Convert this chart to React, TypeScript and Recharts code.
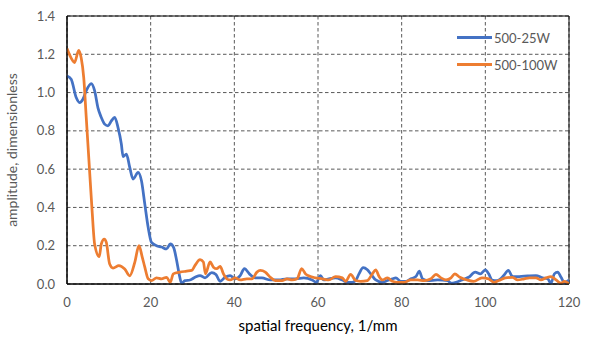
import {
  CartesianGrid,
  Line,
  LineChart,
  ReferenceArea,
  XAxis,
  YAxis,
} from "recharts";

const freqTicks = [0, 20, 40, 60, 80, 100, 120];
const ampTicks = [0, 0.2, 0.4, 0.6, 0.8, 1.0, 1.2, 1.4];

// 500-25W
const lowPowerFreq = [
  0, 1, 2.2, 3, 3.8, 4.6, 5.8, 6.6, 7.4, 8.2, 9, 9.8, 10.6, 11.4, 12.2, 13, 13.4, 14.2, 15, 15.8,
  17, 17.8, 18.6, 19.4, 20.2, 21.4, 22.6, 23.8, 24.7, 25.5, 26.2, 26.8, 27.4, 28.2, 29.4, 30.6,
  31.8, 33, 34.6, 35.6, 36.6, 37.8, 39, 40.2, 41.4, 42.4, 43.6, 45, 46.6, 48.6, 50.6, 52.6, 54.6,
  56.6, 58.6, 59.6, 60.6, 61.4, 62.6, 64.2, 65.8, 67, 68.2, 69, 69.8, 70.8, 71.8, 72.6, 73.8, 75.4,
  76.6, 77.8, 78.6, 79.8, 81, 82.2, 83.4, 84.2, 85, 86.2, 88.6, 91, 91.8, 93, 94.4, 96, 97.6, 98.8,
  100, 100.8, 101.6, 102.8, 104.4, 105.5, 106.5, 108.1, 110.1, 112.1, 113.7, 114.9, 115.7, 116.5,
  117.3, 118.1, 118.9, 120,
];
const lowPowerAmp = [
  1.087, 1.07, 0.974, 0.948, 0.965, 1.01, 1.047, 1.01, 0.92, 0.87, 0.835, 0.826, 0.852, 0.87, 0.817,
  0.73, 0.666, 0.678, 0.609, 0.548, 0.583, 0.539, 0.417, 0.296, 0.217, 0.2, 0.193, 0.183, 0.209,
  0.19, 0.124, 0.053, 0.004, 0.018, 0.021, 0.035, 0.044, 0.032, 0.06, 0.05, 0.014, 0.035, 0.044,
  0.027, 0.044, 0.08, 0.053, 0.032, 0.032, 0.021, 0.021, 0.027, 0.027, 0.032, 0.021, 0.009, 0.044,
  0.021, 0.027, 0.032, 0.021, 0.009, 0.009, 0.018, 0.053, 0.085, 0.074, 0.053, 0.021, 0.009, 0.018,
  0.027, 0.032, 0.014, 0.014, 0.027, 0.039, 0.067, 0.027, 0.018, 0.021, 0.018, 0.004, 0.009, 0.021,
  0.035, 0.062, 0.053, 0.074, 0.053, 0.021, 0.018, 0.044, 0.071, 0.039, 0.039, 0.042, 0.044, 0.032,
  0.027, 0.004, 0.053, 0.062, 0.035, 0.009, 0.021,
];

// 500-100W
const highPowerFreq = [
  0, 1, 1.8, 2.8, 3.4, 4, 4.6, 5.3, 6, 6.6, 7.7, 8.2, 8.9, 9.4, 10.2, 11, 12.4, 13.8, 15, 16.2,
  17.2, 18, 18.6, 19.4, 20.2, 21.4, 22.6, 23.8, 24.7, 25.4, 27, 28.6, 29.8, 30.6, 31.8, 32.6, 33.1,
  34.2, 35, 35.8, 36.6, 37.4, 38.2, 39, 40.2, 41.4, 43, 44.2, 45.4, 46.2, 47.4, 48.6, 49.8, 51.4,
  52.6, 53.8, 55, 56.1, 57, 58.2, 59.4, 61, 62.6, 64.2, 65.8, 66.6, 67.8, 69, 70.2, 71.8, 73, 73.8,
  74.6, 75.4, 76.6, 77.8, 79, 80.6, 82.2, 83.8, 85.4, 87, 88.2, 89.4, 90.6, 91.8, 92.7, 93.9, 95.6,
  97.2, 99.2, 100.8, 102, 103.2, 104.8, 106.5, 107.7, 109.3, 110.5, 112.1, 113.3, 114.5, 115.7,
  116.9, 118.1, 118.9, 120,
];
const highPowerAmp = [
  1.23, 1.18, 1.157, 1.22, 1.18, 1.078, 0.87, 0.626, 0.383, 0.209, 0.143, 0.209, 0.235, 0.217,
  0.104, 0.083, 0.096, 0.078, 0.043, 0.113, 0.2, 0.139, 0.088, 0.027, 0.018, 0.032, 0.027, 0.035,
  0.009, 0.053, 0.062, 0.067, 0.071, 0.097, 0.127, 0.115, 0.053, 0.115, 0.088, 0.08, 0.092, 0.053,
  0.027, 0.021, 0.032, 0.021, 0.027, 0.027, 0.062, 0.071, 0.062, 0.035, 0.018, 0.018, 0.027, 0.021,
  0.027, 0.08, 0.053, 0.039, 0.032, 0.027, 0.021, 0.039, 0.032, 0.014, 0.05, 0.018, 0.014, 0.018,
  0.053, 0.074, 0.039, 0.021, 0.032, 0.014, 0.009, 0.009, 0.021, 0.021, 0.018, 0.027, 0.05, 0.032,
  0.021, 0.032, 0.053, 0.035, 0.021, 0.014, 0.032, 0.027, 0.009, 0.018, 0.032, 0.035, 0.021, 0.027,
  0.032, 0.032, 0.021, 0.032, 0.039, 0.021, 0.004, 0.014, 0,
];

const BLUE = "#4472C4";
const ORANGE = "#ED7D31";
const TEXT = "#595959";
const FONT = "Lato, 'Liberation Sans', sans-serif";

const lowPowerData = lowPowerFreq.map((f, i) => ({ f, amp: lowPowerAmp[i] }));
const highPowerData = highPowerFreq.map((f, i) => ({ f, amp: highPowerAmp[i] }));

const legendItems = [
  { name: "500-25W", color: BLUE },
  { name: "500-100W", color: ORANGE },
];

// legend sits on top of the plot, like Excel's "overlay" legend
function ChartLegend() {
  return (
    <div
      style={{
        position: "absolute",
        left: 457,
        top: 24,
        fontFamily: FONT,
        fontSize: 13,
        color: TEXT,
      }}
    >
      {legendItems.map((item) => (
        <div key={item.name} style={{ display: "flex", alignItems: "center", height: 27 }}>
          <span
            style={{ width: 35, height: 3, background: item.color, marginRight: 2, display: "inline-block" }}
          />
          <span>{item.name}</span>
        </div>
      ))}
    </div>
  );
}

export default function App() {
  return (
    <div style={{ position: "absolute", left: 0, top: 0, width: 591, height: 337, background: "#fff" }}>
      <LineChart width={591} height={337} margin={{ top: 16, right: 22, left: 0, bottom: 0 }}>
        <CartesianGrid stroke="#595959" strokeDasharray="3.5 2.5" />
        <XAxis
          type="number"
          dataKey="f"
          domain={[0, 120]}
          ticks={freqTicks}
          allowDataOverflow
          axisLine={{ stroke: "#000" }}
          tickLine={false}
          tickMargin={8}
          height={53}
          tick={{ fill: TEXT, fontSize: 13, fontFamily: FONT }}
          label={{
            value: "spatial frequency, 1/mm",
            position: "insideBottom",
            offset: 6,
            fill: "#000",
            fontSize: 15,
            fontFamily: FONT,
          }}
        />
        <YAxis
          type="number"
          domain={[0, 1.4]}
          ticks={ampTicks}
          allowDataOverflow
          width={67}
          axisLine={{ stroke: "#000" }}
          tickLine={false}
          tickMargin={6}
          tickFormatter={(v: number) => v.toFixed(1)}
          tick={{ fill: TEXT, fontSize: 13, fontFamily: FONT }}
          label={{
            value: "amplitude, dimensionless",
            angle: -90,
            position: "insideLeft",
            offset: 12,
            style: { textAnchor: "middle" },
            fill: TEXT,
            fontSize: 14,
            fontFamily: FONT,
          }}
        />
        <ReferenceArea x1={0} x2={120} y1={0} y2={1.4} fill="none" stroke="#000" strokeWidth={1} />
        <Line
          data={lowPowerData}
          dataKey="amp"
          name="500-25W"
          type="monotone"
          stroke={BLUE}
          strokeWidth={2.75}
          dot={false}
          isAnimationActive={false}
        />
        <Line
          data={highPowerData}
          dataKey="amp"
          name="500-100W"
          type="monotone"
          stroke={ORANGE}
          strokeWidth={2.75}
          dot={false}
          isAnimationActive={false}
        />
      </LineChart>
      <ChartLegend />
    </div>
  );
}
